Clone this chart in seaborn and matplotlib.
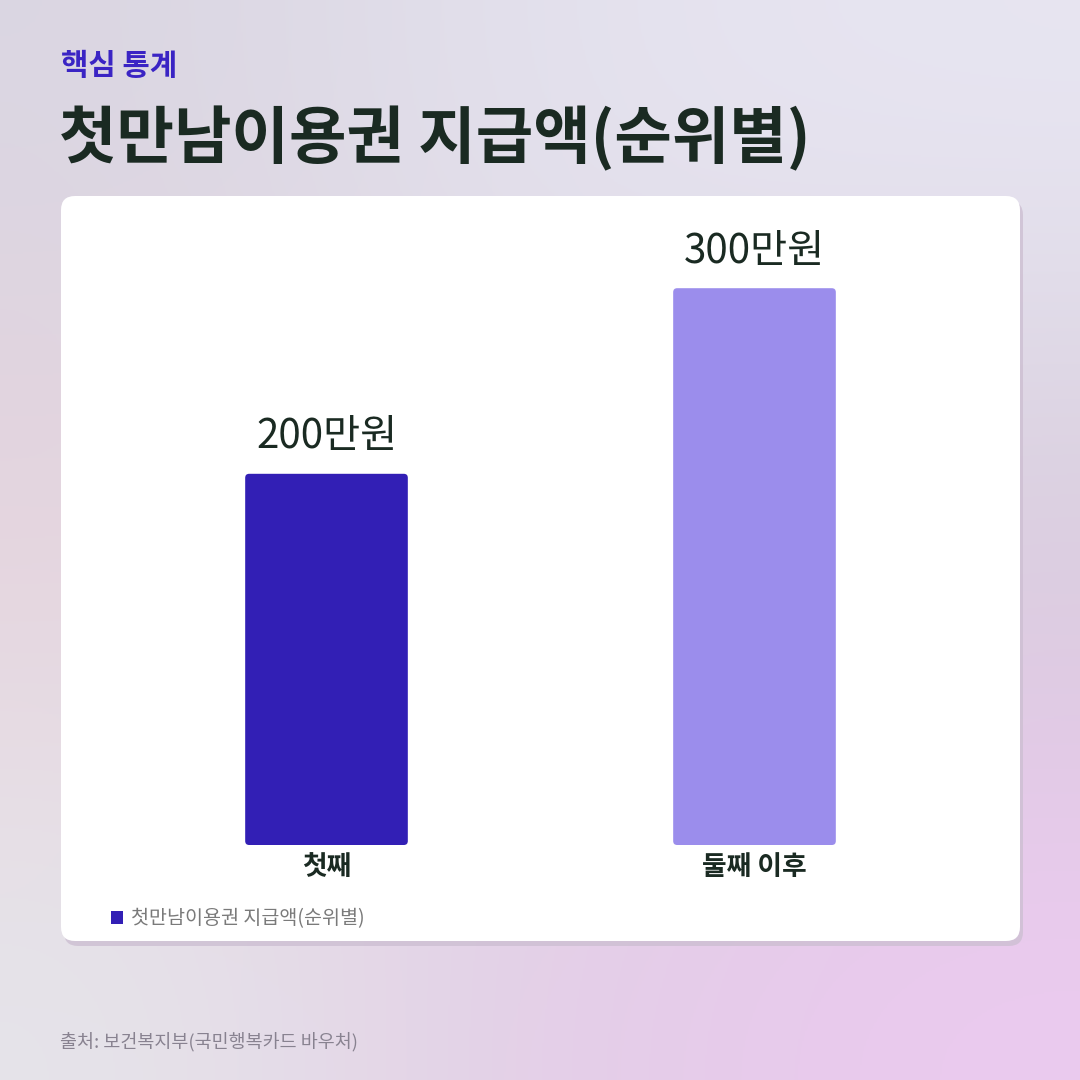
import numpy as np
import matplotlib
matplotlib.use("Agg")
import matplotlib.pyplot as plt
import seaborn as sns
from matplotlib.patches import FancyBboxPatch, Patch

# ---- data ----
categories = ["첫째", "둘째 이후"]
values = [200, 300]  # 만원
value_labels = ["200만원", "300만원"]
bar_colors = ["#321fb5", "#9b8dec"]
series_name = "첫만남이용권 지급액(순위별)"
kicker = "핵심 통계"
title = "첫만남이용권 지급액(순위별)"
source = "출처: 보건복지부(국민행복카드 바우처)"

sns.set_theme(style="white")
plt.rcParams['font.family'] = ['Noto Sans CJK KR', 'DejaVu Sans']

W = H = 1080
fig = plt.figure(figsize=(10.8, 10.8), dpi=100)

def fx(px):
    return px / W

def fy(py):
    return 1 - py / H

# ---- background gradient ----
bg = fig.add_axes([0, 0, 1, 1], zorder=-5)
grid = np.array([
    [[0xda, 0xd6, 0xe2], [0xe4, 0xe2, 0xee], [0xe8, 0xe6, 0xf2]],
    [[0xe7, 0xd2, 0xdc], [0xe2, 0xdb, 0xe6], [0xd5, 0xca, 0xd9]],
    [[0xe6, 0xe5, 0xea], [0xe2, 0xcc, 0xe6], [0xec, 0xca, 0xf0]],
]) / 255.0
bg.imshow(grid, extent=[0, 1, 0, 1], interpolation='bicubic', aspect='auto', origin='upper')
bg.set_xlim(0, 1)
bg.set_ylim(0, 1)
bg.axis('off')

# card shadow + card
card_x0, card_x1, card_y0, card_y1 = 61, 1020, 196, 941
r = 14 / W
shadow = FancyBboxPatch((fx(card_x0 + 3), fy(card_y1 + 5)), fx(card_x1 - card_x0), (card_y1 - card_y0) / H,
                        boxstyle=f"round,pad=0,rounding_size={r}", facecolor="#cdbfd2", edgecolor='none',
                        transform=bg.transAxes, alpha=0.8)
bg.add_patch(shadow)
card = FancyBboxPatch((fx(card_x0), fy(card_y1)), fx(card_x1 - card_x0), (card_y1 - card_y0) / H,
                      boxstyle=f"round,pad=0,rounding_size={r}", facecolor="white", edgecolor='none',
                      transform=bg.transAxes)
bg.add_patch(card)

# ---- main bar axes ----
ax_left, ax_right = 112.5, 968.5
ax_bottom, ax_top = 845, 195.4
ax = fig.add_axes([fx(ax_left), fy(ax_bottom), fx(ax_right - ax_left), (ax_bottom - ax_top) / H], zorder=1)
ax.set_facecolor('none')

sns.barplot(x=categories, y=values, hue=categories, palette=bar_colors, width=0.38,
            saturation=1, legend=False, ax=ax)
ax.set_xlim(-0.5, 1.5)
ax.set_ylim(0, 350)

# round bar corners, using the geometry seaborn produced
px_per_x = (ax_right - ax_left) / 2.0
px_per_y = (ax_bottom - ax_top) / 350.0
rad_px = 4
bars = list(ax.patches)
for p in bars:
    x0, y0, w, h = p.get_x(), p.get_y(), p.get_width(), p.get_height()
    fc = p.get_facecolor()
    p.set_visible(False)
    fb = FancyBboxPatch((x0, y0), w, h,
                        boxstyle=f"round,pad=0,rounding_size={rad_px / px_per_x}",
                        mutation_aspect=px_per_x / px_per_y,
                        facecolor=fc, edgecolor='none')
    ax.add_patch(fb)

for cont, lab in zip(ax.containers, value_labels):
    ax.bar_label(cont, labels=[lab], padding=12, fontsize=29, fontweight='medium', color="#1a2a22")

for s in ax.spines.values():
    s.set_visible(False)
ax.set_yticks([])
ax.set_ylabel("")
ax.set_xlabel("")
ax.tick_params(axis='x', length=0, pad=6)
for t in ax.get_xticklabels():
    t.set_fontsize(19.3)
    t.set_fontweight('bold')
    t.set_color("#1a2a22")

ax.legend(handles=[Patch(facecolor=bar_colors[0], edgecolor='none', label=series_name)],
          loc='center left', bbox_to_anchor=(fx(111), fy(919)), bbox_transform=fig.transFigure,
          frameon=False, fontsize=14.1, handlelength=0.6, handleheight=0.6,
          handletextpad=0.4, borderpad=0, borderaxespad=0, labelcolor="#7a7a7a")

# ---- header / footer texts ----
fig.text(fx(61), fy(66), kicker, fontsize=21.4, fontweight='bold', color="#3a24c4", va='center', ha='left')
fig.text(fx(59), fy(139), title, fontsize=45, fontweight='bold', color="#1a2a22", va='center', ha='left')
fig.text(fx(60), fy(1042), source, fontsize=13.3, color="#888290", va='center', ha='left')

fig.savefig("out.png", dpi=100)
